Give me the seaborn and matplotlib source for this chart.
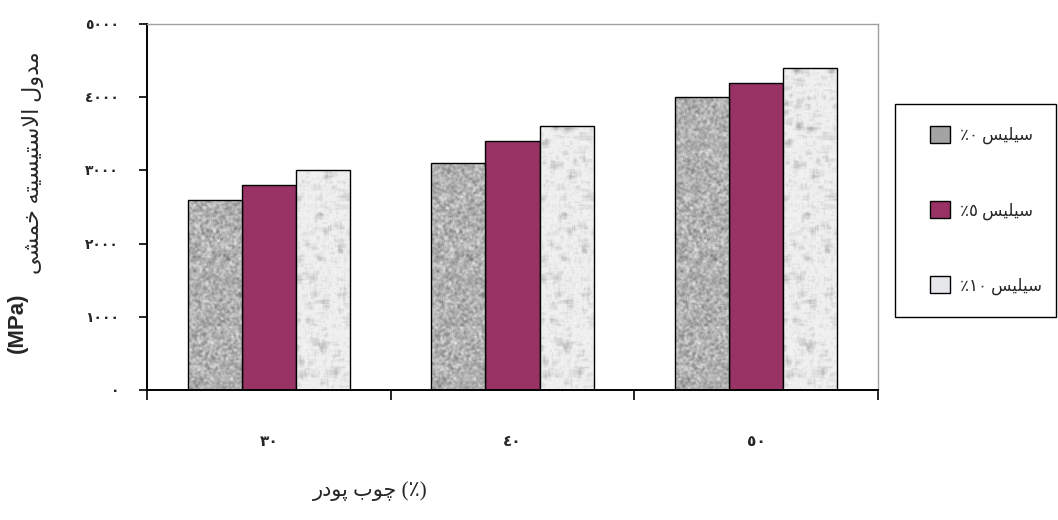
import numpy as np
import pandas as pd
import matplotlib
matplotlib.use("Agg")
import matplotlib.pyplot as plt
from matplotlib.patches import Patch, Rectangle
import seaborn as sns

# ---------------- data ----------------
categories = ["٣٠", "٤٠", "٥٠"]                 # wood powder (%)
series_names = ["سیلیس ٠٪", "سیلیس ٥٪", "سیلیس ١٠٪"]
silica_0 = [2590, 3100, 4000]
silica_5 = [2800, 3400, 4200]
silica_10 = [3000, 3600, 4400]
y_ticks = [0, 1000, 2000, 3000, 4000, 5000]
y_tick_labels = ["٠", "١٠٠٠", "٢٠٠٠", "٣٠٠٠", "٤٠٠٠", "٥٠٠٠"]
y_title = "مدول الاستیسیته خمشی"
y_unit = "(MPa)"
x_title_words = ["پودر", "چوب"]
x_unit = "(٪)"

# ------------- minimal Arabic/Persian shaping (presentation forms, visual order) -------------
FORMS = {
    "\u0627": ("\ufe8d", "\ufe8e", None, None),
    "\u0628": ("\ufe8f", "\ufe90", "\ufe91", "\ufe92"),
    "\u067e": ("\ufb56", "\ufb57", "\ufb58", "\ufb59"),
    "\u062a": ("\ufe95", "\ufe96", "\ufe97", "\ufe98"),
    "\u0686": ("\ufb7a", "\ufb7b", "\ufb7c", "\ufb7d"),
    "\u062e": ("\ufea5", "\ufea6", "\ufea7", "\ufea8"),
    "\u062f": ("\ufea9", "\ufeaa", None, None),
    "\u0631": ("\ufead", "\ufeae", None, None),
    "\u0633": ("\ufeb1", "\ufeb2", "\ufeb3", "\ufeb4"),
    "\u0634": ("\ufeb5", "\ufeb6", "\ufeb7", "\ufeb8"),
    "\u0644": ("\ufedd", "\ufede", "\ufedf", "\ufee0"),
    "\u0645": ("\ufee1", "\ufee2", "\ufee3", "\ufee4"),
    "\u0647": ("\ufee9", "\ufeea", "\ufeeb", "\ufeec"),
    "\u0648": ("\ufeed", "\ufeee", None, None),
    "\u06cc": ("\ufbfc", "\ufbfd", "\ufbfe", "\ufbff"),
}


def _joins_next(c):
    return c in FORMS and FORMS[c][2] is not None


def shape(text):
    out = []
    n = len(text)
    i = 0
    while i < n:
        c = text[i]
        if c not in FORMS:
            out.append(c)
            i += 1
            continue
        prev_connect = i > 0 and _joins_next(text[i - 1])
        if c == "\u0644" and i + 1 < n and text[i + 1] == "\u0627":
            out.append("\ufefc" if prev_connect else "\ufefb")
            i += 2
            continue
        nxt = text[i + 1] if i + 1 < n else None
        next_connect = _joins_next(c) and nxt in FORMS
        iso, fin, ini, med = FORMS[c]
        if prev_connect and next_connect:
            g = med
        elif prev_connect:
            g = fin
        elif next_connect:
            g = ini
        else:
            g = iso
        out.append(g)
        i += 1
    return "".join(reversed(out))


def visual_legend(label):
    word, num = label.split(" ")
    return num[-1] + num[:-1] + " " + shape(word)   # '٪' then the number, word on the right


# ---------------- figure ----------------
sns.set_theme(style="white")
plt.rcParams["font.family"] = ["Liberation Serif", "DejaVu Sans"]

colors = ["#a3a3a3", "#993366", "#e6e7ea"]

df = pd.DataFrame({
    "cat": categories * 3,
    "series": sum([[s] * len(categories) for s in series_names], []),
    "value": silica_0 + silica_5 + silica_10,
})

W, H = 1058, 520
fig = plt.figure(figsize=(W / 100, H / 100), dpi=100)
ax = fig.add_axes([147 / W, 1 - 390 / H, (878 - 147) / W, (390 - 24) / H])

sns.barplot(data=df, x="cat", y="value", hue="series", hue_order=series_names,
            order=categories, palette=colors, width=0.667, gap=0,
            edgecolor="black", linewidth=1.0, saturation=1, legend=False, ax=ax)

# decorative textures clipped to the bars (granite / marble look)
rng = np.random.default_rng(7)


def smooth(a, k):
    ker = np.ones(k) / k
    a = np.apply_along_axis(lambda r: np.convolve(r, ker, mode="same"), 0, a)
    a = np.apply_along_axis(lambda r: np.convolve(r, ker, mode="same"), 1, a)
    return a


granite = smooth(rng.normal(size=(400, 60)), 3)
granite = (granite - granite.min()) / (granite.max() - granite.min())
marble = smooth(rng.normal(size=(400, 60)), 9)
marble = np.abs(marble - marble.mean())
marble = marble / marble.max()

n_cat = len(categories)
for idx, bar in enumerate(ax.patches):
    s = idx // n_cat
    x0 = bar.get_x()
    w = bar.get_width()
    if s == 0:
        img = 0.40 + 0.55 * granite
    elif s == 2:
        img = 0.95 - 0.30 * marble ** 1.3
    else:
        continue
    im = ax.imshow(img, extent=(x0, x0 + w, 0, 5000), origin="lower",
                   cmap="gray", vmin=0, vmax=1, aspect="auto", zorder=bar.get_zorder(),
                   interpolation="bilinear")
    im.set_clip_path(bar)
    bar.set_facecolor("none")
    bar.set_zorder(bar.get_zorder() + 0.5)

ax.set_xlim(-0.5, 2.5)
ax.set_ylim(0, 5000)
ax.set_xlabel("")
ax.set_ylabel("")

# spines
for side in ["top", "right"]:
    ax.spines[side].set_color("#a0a0a0")
    ax.spines[side].set_linewidth(1.0)
for side in ["left", "bottom"]:
    ax.spines[side].set_color("black")
    ax.spines[side].set_linewidth(1.4)

# y ticks
ax.set_yticks(y_ticks)
ax.set_yticklabels(y_tick_labels, fontweight="bold", fontsize=10)
ax.tick_params(axis="y", direction="out", length=6, width=1.2, color="black", left=True, pad=14)

# x ticks: boundaries as major ticks, labels on minor ticks at centres
ax.set_xticks([-0.5, 0.5, 1.5, 2.5])
ax.set_xticklabels([])
ax.tick_params(axis="x", which="major", direction="out", length=7, width=1.2, color="black", bottom=True)
ax.set_xticks([0, 1, 2], minor=True)
ax.set_xticklabels(categories, minor=True, fontweight="bold", fontsize=11)
ax.tick_params(axis="x", which="minor", length=0, pad=33)

# axis titles
x_title_visual = " ".join(shape(w) for w in x_title_words) + " " + x_unit
fig.text(370 / W, 1 - 491 / H, x_title_visual, ha="center", va="center", fontsize=15)
fig.text(33 / W, 1 - 163 / H, shape(y_title), rotation=90, ha="center", va="center", fontsize=16)
fig.text(17 / W, 1 - 323 / H, y_unit, rotation=90, ha="center", va="center", fontsize=16,
         fontweight="bold", family=["Liberation Sans", "DejaVu Sans"])

# legend: frame drawn as a separate box, entries placed inside it
fig.patches.append(Rectangle((895 / W, 1 - 317 / H), (1056 - 895) / W, (317 - 104) / H,
                             transform=fig.transFigure, facecolor="white",
                             edgecolor="black", linewidth=1.0, zorder=1))
handles = [Patch(facecolor=c, edgecolor="black", linewidth=1.0) for c in colors]
labels = [visual_legend(s) for s in series_names]
leg = fig.legend(handles, labels, loc="upper left",
                 bbox_to_anchor=(930 / W, 1 - 126 / H),
                 frameon=False, fontsize=12, labelspacing=3.4,
                 handlelength=1.2, handleheight=1.2, handletextpad=0.6,
                 borderpad=0, borderaxespad=0)
leg.set_zorder(2)

fig.savefig("out.png", dpi=100)
